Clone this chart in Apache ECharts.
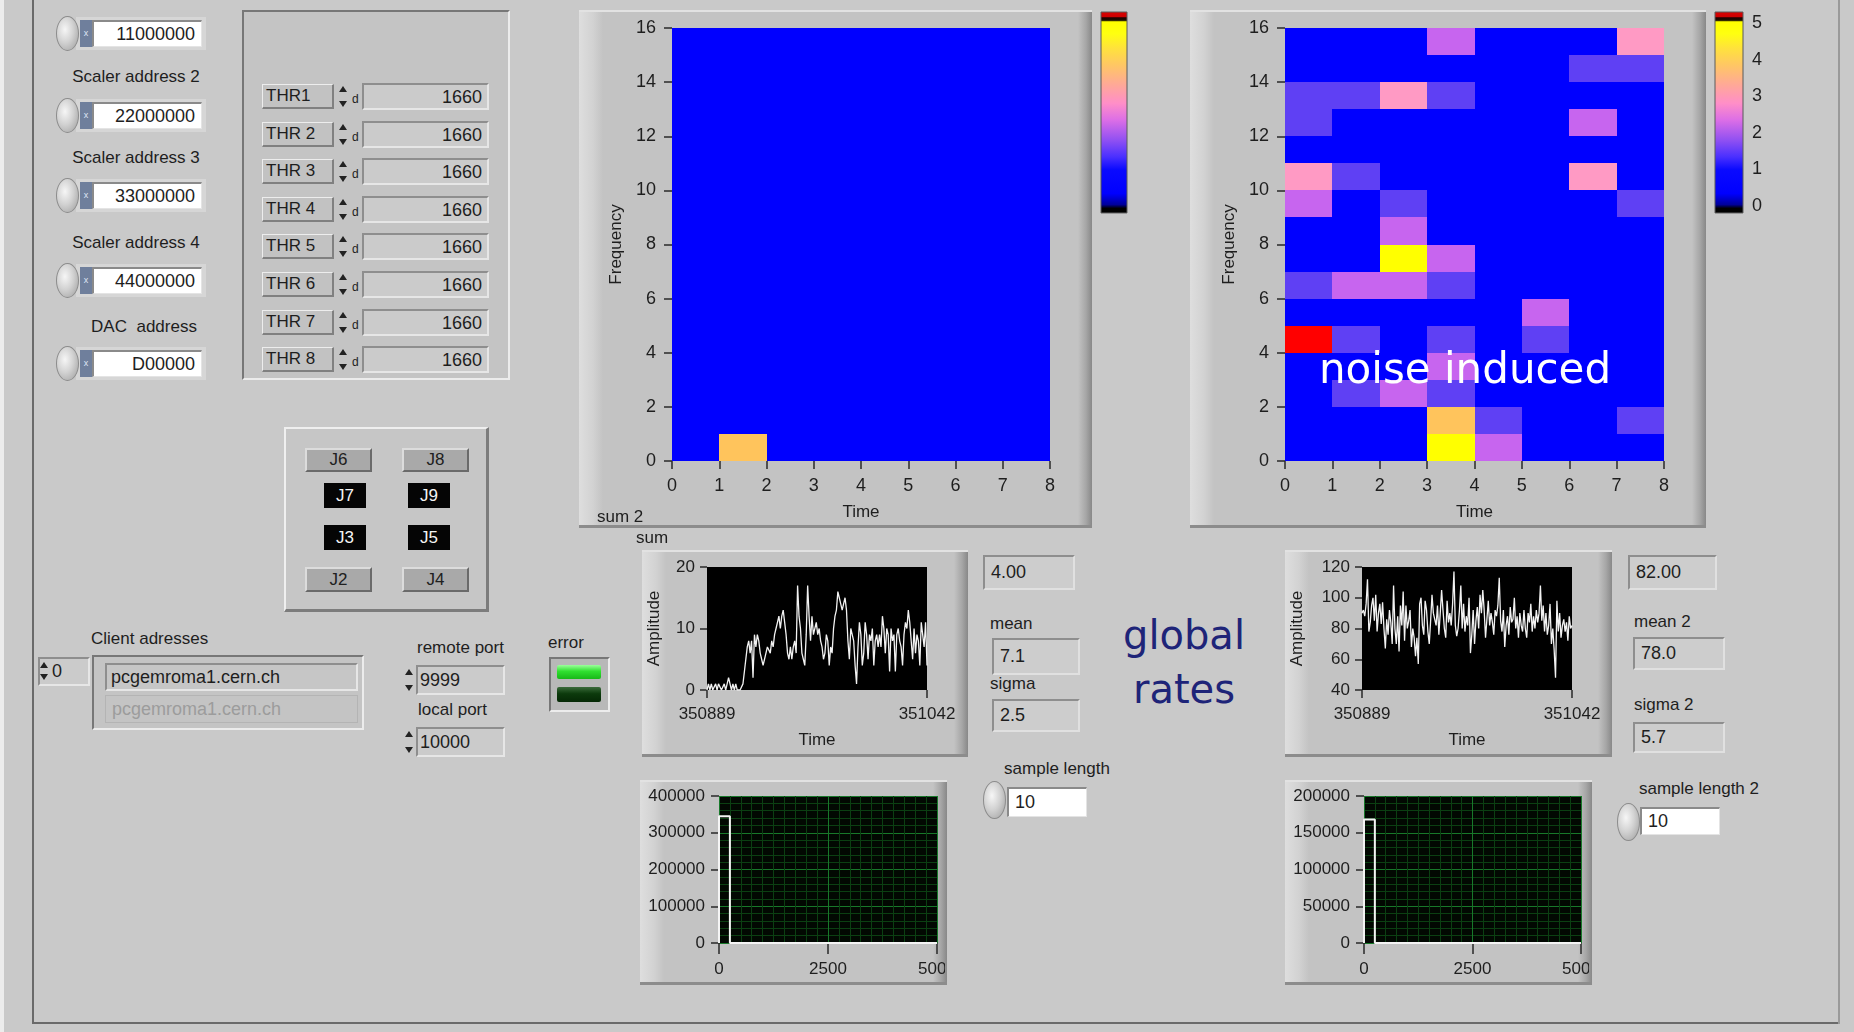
<!DOCTYPE html>
<html>
<head>
<meta charset="utf-8">
<title>Scaler monitor</title>
<script src="https://cdn.jsdelivr.net/npm/echarts@6/dist/echarts.min.js"></script>
<style>
  html, body { margin: 0; padding: 0; }
  body {
    width: 1854px; height: 1032px; position: relative; overflow: hidden;
    background: #c9c9c9; color: #1e1e1e;
    font-family: "Liberation Sans", Arial, sans-serif;
  }
  .abs { position: absolute; box-sizing: border-box; }
  .lbl { font-size: 17px; white-space: nowrap; color: #1e1e1e; z-index: 4; }
  .field {
    background: #fff; font-size: 18px; text-align: right; padding-right: 6px;
    border-top: 2px solid #8a8a8a; border-left: 2px solid #8a8a8a;
    border-bottom: 1px solid #e4e4e4; border-right: 1px solid #e4e4e4;
  }
  .wfield {
    background: #fff; font-size: 18px; text-align: left; padding-left: 6px;
    border-top: 2px solid #8a8a8a; border-left: 2px solid #8a8a8a;
    border-bottom: 1px solid #e4e4e4; border-right: 1px solid #e4e4e4;
  }
  .ind {
    background: #cdcdcd; font-size: 18px; padding-left: 6px; white-space: nowrap;
    border-top: 2px solid #8e8e8e; border-left: 2px solid #8e8e8e;
    border-bottom: 2px solid #e0e0e0; border-right: 2px solid #e0e0e0;
  }
  .gfield {
    background: #cbcbcb; font-size: 18px; text-align: right; padding-right: 5px;
    border-top: 2px solid #8e8e8e; border-left: 2px solid #8e8e8e;
    border-bottom: 2px solid #e6e6e6; border-right: 2px solid #e6e6e6;
  }
  .raised {
    background: #c6c6c6;
    border-top: 2px solid #efefef; border-left: 2px solid #efefef;
    border-bottom: 3px solid #7c7c7c; border-right: 3px solid #7c7c7c;
  }
  .sunken {
    background: #c4c4c4;
    border-top: 2px solid #777; border-left: 2px solid #777;
    border-bottom: 2px solid #ececec; border-right: 2px solid #ececec;
  }
  .tag {
    background: #c2c2c2; font-size: 17px; padding-left: 3px; white-space: nowrap;
    border-top: 1px solid #ededed; border-left: 1px solid #ededed;
    border-bottom: 2px solid #808080; border-right: 2px solid #808080;
  }
  .btn {
    background: #a9a9a9; font-size: 17px; text-align: center; color: #202020;
    border-top: 2px solid #dcdcdc; border-left: 2px solid #dcdcdc;
    border-bottom: 2px solid #6a6a6a; border-right: 2px solid #6a6a6a;
  }
  .btnOn { background: #050505; color: #f4f4f4; font-size: 17px; text-align: center; }
  .knob {
    border-radius: 50%; border: 1px solid #8c8c8c;
    background: radial-gradient(ellipse at 38% 38%, #f6f6f6 0%, #d2d2d2 45%, #9c9c9c 100%);
  }
  .radix { background: #6f7f9c; color: #dfe6f5; font-size: 9px; text-align: center; }
  .spin:before, .spin:after {
    content: ""; position: absolute; left: 1px;
    border-left: 4px solid transparent; border-right: 4px solid transparent;
  }
  .spin:before { top: 2px; border-bottom: 6px solid #222; }
  .spin:after { bottom: 2px; border-top: 6px solid #222; }
  .frame {
    background: linear-gradient(to right, #dedede 0px, #d2d2d2 14px, #c3c3c3 24px,
                #c3c3c3 calc(100% - 14px), #a6a6a6 calc(100% - 6px), #888 100%);
    border-top: 2px solid #e2e2e2; border-bottom: 3px solid #8c8c8c;
  }
  .chart { position: absolute; z-index: 2; }
  .big { font-family: "DejaVu Sans", "Comic Sans MS", sans-serif; white-space: nowrap; z-index: 6; }
</style>
</head>
<body>
<div id="panel"></div>
<script>
// ---------------- data ----------------
const FONT = '"Liberation Sans", Arial, sans-serif';

// Intensity maps: one row per frequency bin (0..15), one value per time bin (0..7)
const sumRows = [
  [0, 4, 0, 0, 0, 0, 0, 0],
  [0, 0, 0, 0, 0, 0, 0, 0],
  [0, 0, 0, 0, 0, 0, 0, 0],
  [0, 0, 0, 0, 0, 0, 0, 0],
  [0, 0, 0, 0, 0, 0, 0, 0],
  [0, 0, 0, 0, 0, 0, 0, 0],
  [0, 0, 0, 0, 0, 0, 0, 0],
  [0, 0, 0, 0, 0, 0, 0, 0],
  [0, 0, 0, 0, 0, 0, 0, 0],
  [0, 0, 0, 0, 0, 0, 0, 0],
  [0, 0, 0, 0, 0, 0, 0, 0],
  [0, 0, 0, 0, 0, 0, 0, 0],
  [0, 0, 0, 0, 0, 0, 0, 0],
  [0, 0, 0, 0, 0, 0, 0, 0],
  [0, 0, 0, 0, 0, 0, 0, 0],
  [0, 0, 0, 0, 0, 0, 0, 0]
];
const noiseRows = [
  [0, 0, 0, 5, 2, 0, 0, 0],
  [0, 0, 0, 4, 1, 0, 0, 1],
  [0, 1, 2, 1, 0, 0, 0, 0],
  [0, 0, 0, 2, 0, 0, 0, 0],
  [16, 1, 0, 1, 0, 1, 0, 0],
  [0, 0, 0, 0, 0, 2, 0, 0],
  [1, 2, 2, 1, 0, 0, 0, 0],
  [0, 0, 5, 2, 0, 0, 0, 0],
  [0, 0, 2, 0, 0, 0, 0, 0],
  [2, 0, 1, 0, 0, 0, 0, 1],
  [3, 1, 0, 0, 0, 0, 3, 0],
  [0, 0, 0, 0, 0, 0, 0, 0],
  [1, 0, 0, 0, 0, 0, 2, 0],
  [1, 1, 3, 1, 0, 0, 0, 0],
  [0, 0, 0, 0, 0, 0, 1, 1],
  [0, 0, 0, 2, 0, 0, 0, 3]
];
const timeBins = 8;
const freqBins = 16;

// colour per count level 0..5, and the overflow colour above 5
const levelColors = ['#0000ff', '#5f40f4', '#c765ef', '#ff9ac4', '#ffc45c', '#ffff00'];
const overflowColor = '#ff0000';

// colour ramp legend: scale 0..5 plus under/overflow strips, [value, colour] bottom to top
const rampMin = 0, rampMax = 5;
const rampLo = -0.19, rampHi = 5.3;
const rampStops = [
  [-0.19, '#000000'], [-0.05, '#000000'], [0.05, '#00009a'], [0.35, '#0000ff'],
  [1.0, '#0a0aff'], [1.35, '#4a30ff'], [1.8, '#9050f2'], [2.35, '#dc6ee6'],
  [2.8, '#ff8ec8'], [3.3, '#ffa898'], [3.8, '#ffc468'], [4.3, '#ffe23c'],
  [4.7, '#ffff10'], [5.02, '#ffff00'], [5.06, '#1a1000'], [5.13, '#200000'],
  [5.16, '#cc0000'], [5.3, '#dd0000']
];

// global rates, one sample per time stamp starting at rateT0
const rateT0 = 350889;
const rateT1 = 351042;
const rateSum = [
  0, 1, 0, 1, 0, 0, 1, 0, 1, 1, 0, 0, 1, 0, 1, 2, 2, 0, 1, 0, 1, 0, 0, 0, 0,
  1, 3, 3, 7, 8, 6, 8, 2, 9, 7, 9, 8,
  6, 5, 4, 5, 6, 7, 7, 6, 8, 7, 9, 10,
  11, 12, 10, 12, 13, 11, 9, 6, 5, 7, 5, 7,
  8, 6, 17, 12, 10, 6, 5, 4, 9, 17, 12, 8,
  12, 9, 10, 11, 9, 10, 8, 7, 5, 6, 9, 8,
  4, 7, 6, 10, 12, 13, 16, 15, 14, 13, 14, 15,
  13, 8, 5, 10, 9, 8, 4, 1, 7, 11, 9, 4,
  6, 11, 9, 5, 9, 8, 10, 4, 8, 9, 7, 9,
  7, 12, 10, 6, 10, 9, 3, 10, 8, 9, 3, 9,
  10, 8, 7, 4, 9, 11, 10, 13, 11, 8, 5, 10,
  6, 9, 8, 4, 11, 9, 7, 11, 4
];
const rateSum2 = [
  90, 92, 88, 96, 112, 78, 84, 95, 100, 85,
  102, 78, 90, 96, 83, 97, 80, 67, 86, 76,
  92, 84, 70, 108, 80, 70, 88, 65, 95, 82,
  104, 72, 95, 80, 85, 92, 68, 80, 74, 62,
  74, 57, 96, 100, 82, 76, 98, 92, 78, 70,
  85, 102, 90, 86, 82, 95, 76, 90, 105, 92,
  80, 74, 98, 84, 90, 82, 96, 117, 82, 75,
  80, 92, 108, 80, 96, 78, 88, 82, 100, 64,
  76, 92, 70, 85, 94, 80, 102, 90, 105, 92,
  74, 86, 98, 82, 90, 84, 76, 92, 88, 95,
  113, 85, 78, 92, 68, 82, 88, 76, 94, 84,
  86, 100, 80, 88, 74, 90, 82, 78, 92, 80,
  74, 90, 84, 96, 78, 88, 80, 92, 84, 90,
  108, 85, 95, 78, 90, 76, 82, 96, 70, 80,
  66, 48, 98, 78, 90, 74, 82, 86, 78, 84,
  72, 88, 80, 82
];

// rate histograms, bin width 250 over 0..5000
const histBinWidth = 250;
const histCounts = [345000, 0, 0, 0, 0, 0, 0, 0, 0, 0, 0, 0, 0, 0, 0, 0, 0, 0, 0, 0];
const histCounts2 = [168000, 0, 0, 0, 0, 0, 0, 0, 0, 0, 0, 0, 0, 0, 0, 0, 0, 0, 0, 0];

// ---------------- front panel controls ----------------
const panel = document.getElementById('panel');
function box(x, y, w, h, cls, text, extra) {
  const d = document.createElement('div');
  d.className = 'abs ' + (cls || '');
  d.style.left = x + 'px';
  d.style.top = y + 'px';
  if (w != null) d.style.width = w + 'px';
  if (h != null) { d.style.height = h + 'px'; d.style.lineHeight = (h - 3) + 'px'; }
  if (text != null) d.textContent = text;
  if (extra) Object.assign(d.style, extra);
  panel.appendChild(d);
  return d;
}
function label(x, cy, text, centered, extra) {
  const d = box(x, cy, null, null, 'lbl', text, extra);
  d.style.transform = centered ? 'translate(-50%,-50%)' : 'translate(0,-50%)';
  return d;
}

// outer panel edges
box(0, 0, 4, 1032, '', null, { background: '#ececec' });
box(32, 0, 2, 1024, '', null, { background: '#6a6a6a' });
box(32, 1022, 1808, 2, '', null, { background: '#6a6a6a' });
box(1838, 0, 2, 1024, '', null, { background: '#9a9a9a' });

// scaler address controls
const addrLabels = ['Scaler address', 'Scaler address 2', 'Scaler address 3', 'Scaler address 4', 'DAC  address'];
const addrLabelY = [-6, 77, 158, 243, 327];
const addrValues = ['11000000', '22000000', '33000000', '44000000', 'D00000'];
const addrFieldY = [20, 102, 182, 267, 350];
addrLabels.forEach((t, i) => {
  label(i === 4 ? 144 : 136, addrLabelY[i], t, true, { whiteSpace: 'pre' });
  const y = addrFieldY[i];
  box(76, y - 3, 130, 33, '', null, { background: '#d6d6d6' });
  box(56, y - 4, 23, 35, 'knob');
  box(80, y, 12, 27, 'radix', 'x', { lineHeight: '27px' });
  box(92, y, 110, 27, 'field', addrValues[i], { lineHeight: '24px' });
});

// threshold block
box(242, 10, 268, 370, 'sunken');
const thrNames = ['THR1', 'THR 2', 'THR 3', 'THR 4', 'THR 5', 'THR 6', 'THR 7', 'THR 8'];
const thrValues = ['1660', '1660', '1660', '1660', '1660', '1660', '1660', '1660'];
const thrY = [96, 134, 171, 209, 246, 284, 322, 359];
thrNames.forEach((t, i) => {
  const y = thrY[i];
  box(262, y - 12, 72, 25, 'tag', t);
  box(338, y - 12, 10, 25, 'spin');
  box(352, y - 8, 10, 20, 'lbl', 'd', { fontSize: '12px', lineHeight: '22px' });
  box(362, y - 13, 127, 27, 'gfield', thrValues[i]);
});

// connector selector
box(284, 427, 205, 185, 'raised');
box(305, 448, 67, 24, 'btn', 'J6', { lineHeight: '20px' });
box(402, 448, 67, 24, 'btn', 'J8', { lineHeight: '20px' });
box(324, 483, 42, 25, 'btnOn', 'J7', { lineHeight: '25px' });
box(408, 483, 42, 25, 'btnOn', 'J9', { lineHeight: '25px' });
box(324, 525, 42, 25, 'btnOn', 'J3', { lineHeight: '25px' });
box(408, 525, 42, 25, 'btnOn', 'J5', { lineHeight: '25px' });
box(305, 567, 67, 25, 'btn', 'J2', { lineHeight: '21px' });
box(402, 567, 67, 25, 'btn', 'J4', { lineHeight: '21px' });

// network settings
label(91, 639, 'Client adresses', false);
box(38, 657, 52, 29, 'gfield', '0', { textAlign: 'left', paddingLeft: '12px', lineHeight: '24px' });
box(39, 660, 9, 22, 'spin');
box(92, 655, 272, 75, 'sunken');
box(105, 663, 253, 28, 'gfield', 'pcgemroma1.cern.ch', { textAlign: 'left', paddingLeft: '4px', background: '#c6c6c6', lineHeight: '24px' });
box(105, 695, 253, 28, '', 'pcgemroma1.cern.ch', { fontSize: '18px', paddingLeft: '6px', color: '#9c9c9c', border: '1px solid #b4b4b4', lineHeight: '26px' });
label(417, 648, 'remote port', false);
box(404, 667, 10, 26, 'spin');
box(416, 665, 89, 30, 'gfield', '9999', { textAlign: 'left', paddingLeft: '2px', lineHeight: '26px' });
label(418, 710, 'local port', false);
box(404, 729, 10, 26, 'spin');
box(416, 727, 89, 30, 'gfield', '10000', { textAlign: 'left', paddingLeft: '2px', lineHeight: '26px' });
label(548, 643, 'error', false);
box(549, 657, 61, 55, 'sunken', null, { background: '#b8b8b8' });
box(557, 665, 44, 14, '', null, { background: 'linear-gradient(#9cff9c, #30e030 45%, #18b818)', borderRadius: '2px' });
box(557, 687, 44, 15, '', null, { background: 'linear-gradient(#3a6a3a, #0c3a0c 45%, #052805)', borderRadius: '2px' });

// graph frames
box(579, 10, 513, 518, 'frame');
box(1190, 10, 516, 518, 'frame');
box(642, 550, 326, 207, 'frame');
box(1285, 550, 327, 207, 'frame');
box(640, 780, 307, 205, 'frame');
box(1285, 780, 307, 205, 'frame');
label(597, 517, 'sum 2', false);
label(636, 538, 'sum', false);

// statistics indicators
box(983, 555, 92, 35, 'ind', '4.00', { lineHeight: '30px' });
label(990, 624, 'mean', false);
box(992, 638, 88, 37, 'ind', '7.1', { lineHeight: '32px' });
label(990, 684, 'sigma', false);
box(992, 699, 88, 33, 'ind', '2.5', { lineHeight: '28px' });
box(1628, 555, 89, 35, 'ind', '82.00', { lineHeight: '30px' });
label(1634, 622, 'mean 2', false);
box(1633, 637, 92, 33, 'ind', '78.0', { lineHeight: '28px' });
label(1634, 705, 'sigma 2', false);
box(1633, 722, 92, 31, 'ind', '5.7', { lineHeight: '26px' });

// sample length controls
label(1057, 769, 'sample length', true);
box(983, 781, 23, 38, 'knob');
box(1007, 787, 80, 30, 'wfield', '10', { lineHeight: '26px' });
label(1699, 789, 'sample length 2', true);
box(1617, 803, 23, 38, 'knob');
box(1640, 807, 80, 28, 'wfield', '10', { lineHeight: '24px' });

// annotations
box(1184, 635, null, null, 'big', 'global', { fontSize: '40px', color: '#1e2478', transform: 'translate(-50%,-50%)' });
box(1184, 689, null, null, 'big', 'rates', { fontSize: '40px', color: '#1e2478', transform: 'translate(-50%,-50%)' });
box(1465, 368, null, null, 'big', 'noise induced', { fontSize: '42px', color: '#ffffff', transform: 'translate(-50%,-50%)' });

// ---------------- charts ----------------
function mkChart(x, y, w, h) {
  const d = document.createElement('div');
  d.className = 'chart';
  Object.assign(d.style, { left: x + 'px', top: y + 'px', width: w + 'px', height: h + 'px' });
  document.body.appendChild(d);
  return echarts.init(d, null, { renderer: 'canvas' });
}
const tickStyle = { color: '#2a2a2a', width: 1.5 };
const txt = { color: '#1e1e1e', fontFamily: FONT };
const plain = v => String(v);   // no digit grouping on tick labels

function gridAt(g, extra) {
  return Object.assign({ left: g[0], top: g[1], width: g[2], height: g[3],
    containLabel: false, outerBoundsMode: 'none' }, extra || {});
}
function cellsFrom(rows) {
  const out = [];
  rows.forEach((row, f) => row.forEach((v, t) => out.push([t, f, v])));
  return out;
}
function renderCell(params, api) {
  const t = api.value(0), f = api.value(1);
  const a = api.coord([t, f + 1]);
  const b = api.coord([t + 1, f]);
  return {
    type: 'rect',
    shape: { x: Math.round(a[0]), y: Math.round(a[1]),
             width: Math.round(b[0]) - Math.round(a[0]), height: Math.round(b[1]) - Math.round(a[1]) },
    style: { fill: api.visual('color') }
  };
}
// ramp bar spans the 0..5 scale plus the under/overflow strips beyond it
function renderRamp(params, api) {
  const a = api.coord([0, rampHi]);
  const b = api.coord([1, rampLo]);
  const stops = rampStops.map(s => ({ offset: (s[0] - rampLo) / (rampHi - rampLo), color: s[1] }));
  return {
    type: 'rect',
    shape: { x: a[0], y: a[1], width: b[0] - a[0], height: b[1] - a[1] },
    style: { fill: new echarts.graphic.LinearGradient(0, 1, 0, 0, stops), stroke: '#5a5a5a', lineWidth: 1 }
  };
}
function heatOption(rows, g, cb, rampLabels) {
  const pieces = levelColors.map((c, i) => ({ value: i, color: c }));
  pieces.push({ gt: levelColors.length - 1, color: overflowColor });
  return {
    animation: false,
    textStyle: { fontFamily: FONT },
    grid: [gridAt(g), gridAt(cb)],
    xAxis: [
      { gridIndex: 0, type: 'value', min: 0, max: timeBins, interval: 1, offset: 3,
        axisLine: { show: false }, splitLine: { show: false },
        axisTick: { show: true, length: 8, lineStyle: tickStyle },
        axisLabel: Object.assign({ margin: 13, fontSize: 18, formatter: plain }, txt),
        name: 'Time', nameLocation: 'middle', nameGap: 40,
        nameTextStyle: Object.assign({ fontSize: 17 }, txt) },
      { gridIndex: 1, type: 'value', min: 0, max: 1, show: false }
    ],
    yAxis: [
      { gridIndex: 0, type: 'value', min: 0, max: freqBins, interval: 2, offset: 3,
        axisLine: { show: false }, splitLine: { show: false },
        axisTick: { show: true, length: 8, lineStyle: tickStyle },
        axisLabel: Object.assign({ margin: 13, fontSize: 18, formatter: plain }, txt),
        name: 'Frequency', nameLocation: 'middle', nameGap: 40,
        nameTextStyle: Object.assign({ fontSize: 17 }, txt) },
      { gridIndex: 1, type: 'value', min: rampMin, max: rampMax, interval: 1, position: 'right',
        axisLine: { show: false }, splitLine: { show: false },
        axisTick: { show: rampLabels, length: 6, lineStyle: { color: '#1a1a1a', width: 2 } },
        axisLabel: Object.assign({ show: rampLabels, margin: 9, fontSize: 18, formatter: plain }, txt) }
    ],
    visualMap: { type: 'piecewise', show: false, dimension: 2, seriesIndex: 0, pieces: pieces },
    series: [
      { type: 'custom', xAxisIndex: 0, yAxisIndex: 0, data: cellsFrom(rows),
        encode: { x: 0, y: 1 }, renderItem: renderCell },
      { type: 'custom', xAxisIndex: 1, yAxisIndex: 1, data: [[0, rampMin]], clip: false,
        encode: { x: 0, y: 1 }, renderItem: renderRamp, silent: true, z: 1 }
    ]
  };
}
function rateOption(values, g, yMin, yMax, yStep, nameGapY) {
  return {
    animation: false,
    textStyle: { fontFamily: FONT },
    grid: gridAt(g, { show: true, backgroundColor: '#000', borderWidth: 0 }),
    xAxis: { type: 'value', min: rateT0, max: rateT1,
      axisLine: { show: false }, splitLine: { show: false },
      axisTick: { show: true, customValues: [rateT0, rateT1], length: 8, lineStyle: tickStyle },
      axisLabel: Object.assign({ customValues: [rateT0, rateT1], margin: 16, fontSize: 17, formatter: plain }, txt),
      name: 'Time', nameLocation: 'middle', nameGap: 42,
      nameTextStyle: Object.assign({ fontSize: 17 }, txt) },
    yAxis: { type: 'value', min: yMin, max: yMax, interval: yStep,
      axisLine: { show: false }, splitLine: { show: false },
      axisTick: { show: true, length: 7, lineStyle: tickStyle },
      axisLabel: Object.assign({ margin: 12, fontSize: 17, formatter: plain }, txt),
      name: 'Amplitude', nameLocation: 'middle', nameGap: nameGapY,
      nameTextStyle: Object.assign({ fontSize: 17 }, txt) },
    series: [{ type: 'line', data: values.map((v, i) => [rateT0 + i, v]),
      showSymbol: false, lineStyle: { color: '#f2f2f2', width: 1.3 } }]
  };
}
function histOption(counts, g, yMax, yStep) {
  const pts = [[0, 0]];
  counts.forEach((c, i) => { pts.push([i * histBinWidth, c]); pts.push([(i + 1) * histBinWidth, c]); });
  pts.push([counts.length * histBinWidth, 0]);
  return {
    animation: false,
    textStyle: { fontFamily: FONT },
    grid: gridAt(g, { show: true, backgroundColor: '#020802', borderWidth: 0 }),
    xAxis: { type: 'value', min: 0, max: counts.length * histBinWidth, interval: 2500,
      axisLine: { show: false },
      splitLine: { show: true, lineStyle: { color: '#18782a', width: 1 } },
      minorTick: { show: false, splitNumber: 10 },
      minorSplitLine: { show: true, lineStyle: { color: '#0b3f12', width: 1 } },
      axisTick: { show: true, length: 11, lineStyle: tickStyle },
      axisLabel: Object.assign({ margin: 18, fontSize: 17, formatter: plain }, txt) },
    yAxis: { type: 'value', min: 0, max: yMax, interval: yStep,
      axisLine: { show: false },
      splitLine: { show: true, lineStyle: { color: '#18782a', width: 1 } },
      minorTick: { show: false, splitNumber: 5 },
      minorSplitLine: { show: true, lineStyle: { color: '#0b3f12', width: 1 } },
      axisTick: { show: true, length: 8, lineStyle: tickStyle },
      axisLabel: Object.assign({ margin: 14, fontSize: 17, formatter: plain }, txt) },
    series: [{ type: 'line', data: pts, showSymbol: false, clip: false,
      lineStyle: { color: '#f4f4f4', width: 2 } }]
  };
}

// colour ramp grids cover the 0..5 scale (y 23..206); the bar extends to y 12..213
mkChart(560, 0, 600, 540).setOption(heatOption(sumRows, [112, 28, 378, 433], [541, 23, 26, 183], false));
mkChart(1170, 0, 640, 540).setOption(heatOption(noiseRows, [115, 28, 379, 433], [545, 23, 28, 183], true));
mkChart(642, 550, 326, 207).setOption(rateOption(rateSum, [65, 17, 220, 123], 0, 20, 10, 44));
mkChart(1285, 550, 327, 207).setOption(rateOption(rateSum2, [77, 17, 210, 123], 40, 120, 20, 56));
mkChart(640, 780, 305, 205).setOption(histOption(histCounts, [79, 16, 218, 147], 400000, 100000));
mkChart(1285, 780, 304, 205).setOption(histOption(histCounts2, [79, 16, 217, 147], 200000, 50000));
</script>
</body>
</html>
